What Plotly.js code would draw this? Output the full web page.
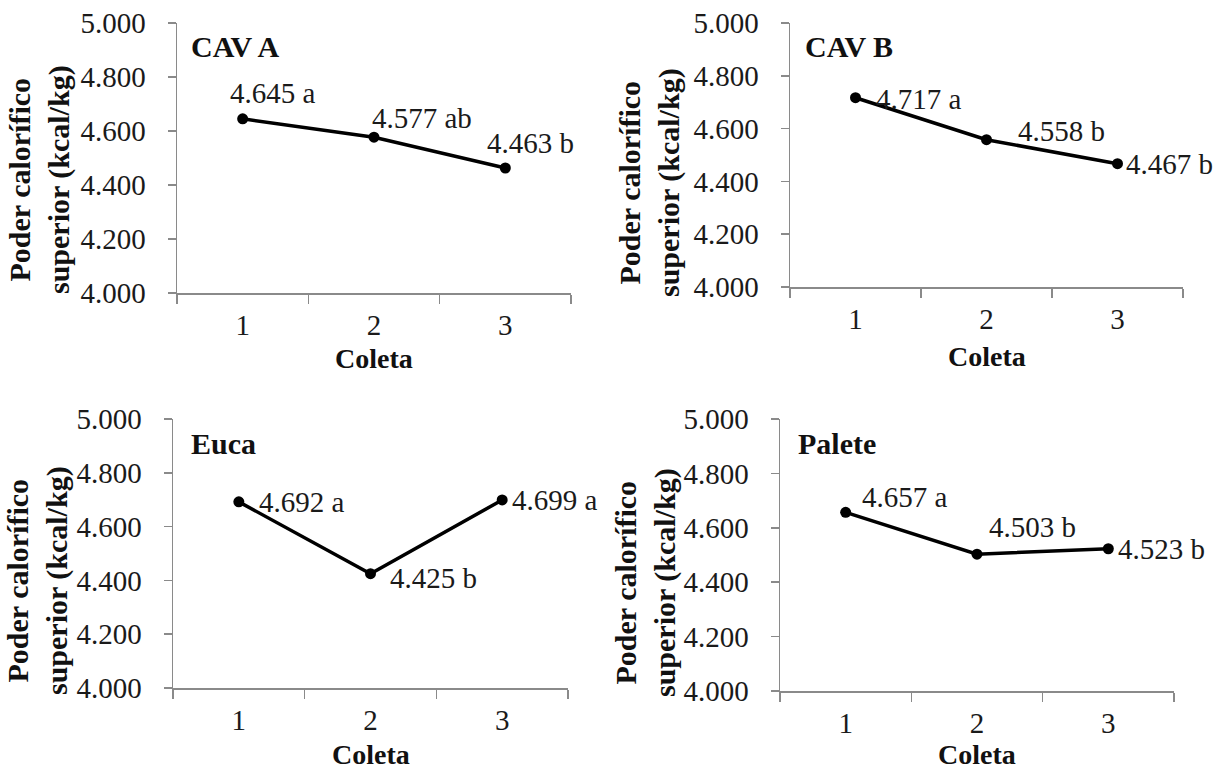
<!DOCTYPE html>
<html>
<head>
<meta charset="utf-8">
<script src="https://cdn.plot.ly/plotly-3.0.1.min.js"></script>
<style>
html,body{margin:0;padding:0;background:#fff;}
#chart{width:1214px;height:769px;}
</style>
</head>
<body>
<div id="chart"></div>
<script>
// ---------- data ----------
const coletas = ['1', '2', '3'];
const panelNames = ['CAV A', 'CAV B', 'Euca', 'Palete'];
const cavA = [4645, 4577, 4463];
const cavB = [4717, 4558, 4467];
const euca = [4692, 4425, 4699];
const palete = [4657, 4503, 4523];
const lettersCavA = ['a', 'ab', 'b'];
const lettersCavB = ['a', 'b', 'b'];
const lettersEuca = ['a', 'b', 'a'];
const lettersPalete = ['a', 'b', 'b'];
const yTickVals = [4000, 4200, 4400, 4600, 4800, 5000];
const yTitle = 'Poder calorífico<br>superior (kcal/kg)';
const xTitle = 'Coleta';

// ---------- layout helpers (pixel geometry) ----------
const W = 1214, H = 769;
const PX = p => p / W;
const PY = p => 1 - p / H;

const series = [cavA, cavB, euca, palete];
const letters = [lettersCavA, lettersCavB, lettersEuca, lettersPalete];

// plot rectangles [left, right, top, bottom] in px
const rects = [
  [177, 571, 23, 293],
  [790, 1183, 23, 287],
  [173, 568, 419, 688],
  [780, 1174, 419, 691]
];
// label offsets in px (dx, dy)
const labelOffsets = [
  [[30, -26], [48, -19], [25, -25]],
  [[63, 1], [75, -9], [52, 0]],
  [[63, 0], [63, 4], [53, 0]],
  [[59, -15], [55, -27], [53, 0]]
];
const panelLabelPos = [[189, 47], [803, 47], [189, 443], [796, 443]];
const xTitleY = [358, 356, 754, 754];
const yTitleX = [39, 650, 37, 645];
const yTitleY = [180, 182, 581, 583];

const FONT = 'Times New Roman, Times, Liberation Serif, DejaVu Serif, Noto Serif, serif';
const AXIS_COLOR = '#8a8a8a';

const fmt = v => {
  const s = String(Math.round(v));
  return s.replace(/(\d)(?=(\d{3})+$)/g, '$1.');
};

const traces = [];
const layout = {
  width: W, height: H,
  margin: {l: 0, r: 0, t: 0, b: 0},
  paper_bgcolor: '#ffffff',
  plot_bgcolor: '#ffffff',
  showlegend: false,
  separators: ',.',
  font: {family: FONT, size: 29, color: '#1a1a1a'},
  annotations: []
};

series.forEach((vals, i) => {
  const n = i + 1;
  const xa = 'x' + (n === 1 ? '' : n);
  const ya = 'y' + (n === 1 ? '' : n);
  const r = rects[i];
  traces.push({
    type: 'scatter',
    mode: 'lines+markers',
    x: coletas,
    y: vals,
    xaxis: xa, yaxis: ya,
    line: {color: '#000000', width: 3.5},
    marker: {color: '#000000', size: 11, symbol: 'circle'},
    cliponaxis: false,
    hoverinfo: 'skip'
  });
  layout['xaxis' + (n === 1 ? '' : n)] = {
    domain: [PX(r[0]), PX(r[1])],
    anchor: ya,
    type: 'category',
    range: [-0.5, 2.5],
    tickson: 'boundaries',
    ticks: 'outside',
    ticklen: 9,
    tickwidth: 1.5,
    tickcolor: AXIS_COLOR,
    showline: true,
    linecolor: AXIS_COLOR,
    linewidth: 1.5,
    showgrid: false,
    zeroline: false,
    ticklabelstandoff: 6,
    tickfont: {family: FONT, size: 29, color: '#1a1a1a'},
    fixedrange: true
  };
  layout['yaxis' + (n === 1 ? '' : n)] = {
    domain: [PY(r[3]), PY(r[2])],
    anchor: xa,
    range: [4000, 5000],
    tickvals: yTickVals,
    tickformat: ',d',
    ticks: 'outside',
    ticklen: 8,
    tickwidth: 1.5,
    tickcolor: AXIS_COLOR,
    showline: true,
    linecolor: AXIS_COLOR,
    linewidth: 1.5,
    showgrid: false,
    zeroline: false,
    ticklabelstandoff: 16,
    tickfont: {family: FONT, size: 29, color: '#1a1a1a'},
    fixedrange: true
  };
  // data labels (x given as category index)
  vals.forEach((v, j) => {
    layout.annotations.push({
      xref: xa, yref: ya,
      x: j, y: v,
      xshift: labelOffsets[i][j][0],
      yshift: -labelOffsets[i][j][1],
      text: fmt(v) + ' ' + letters[i][j],
      showarrow: false,
      xanchor: 'center', yanchor: 'middle',
      font: {family: FONT, size: 29, color: '#1a1a1a'}
    });
  });
  // panel label
  layout.annotations.push({
    xref: 'paper', yref: 'paper',
    x: PX(panelLabelPos[i][0]), y: PY(panelLabelPos[i][1]),
    xanchor: 'left', yanchor: 'middle',
    text: '<b>' + panelNames[i] + '</b>',
    showarrow: false,
    font: {family: FONT, size: 30, color: '#111111'}
  });
  // x title
  layout.annotations.push({
    xref: 'paper', yref: 'paper',
    x: PX((r[0] + r[1]) / 2), y: PY(xTitleY[i]),
    xanchor: 'center', yanchor: 'middle',
    text: '<b>' + xTitle + '</b>',
    showarrow: false,
    borderpad: 0,
    font: {family: FONT, size: 28, color: '#111111'}
  });
  // y title
  layout.annotations.push({
    xref: 'paper', yref: 'paper',
    x: PX(yTitleX[i]), y: PY(yTitleY[i]),
    xanchor: 'center', yanchor: 'middle',
    textangle: -90,
    text: '<b>' + yTitle + '</b>',
    showarrow: false,
    font: {family: FONT, size: 30, color: '#111111'}
  });
});

Plotly.newPlot('chart', traces, layout, {displayModeBar: false, staticPlot: true});
</script>
</body>
</html>
